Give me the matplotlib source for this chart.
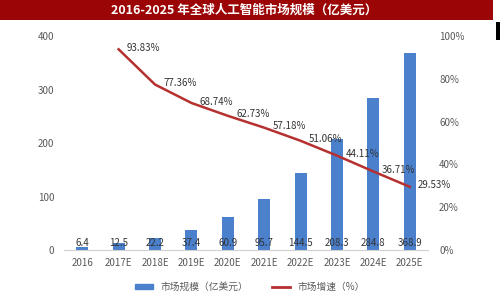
import matplotlib.pyplot as plt
from matplotlib.patches import Rectangle

plt.rcParams['font.family'] = ['Noto Sans CJK SC', 'DejaVu Sans']

years = ['2016', '2017E', '2018E', '2019E', '2020E', '2021E', '2022E', '2023E', '2024E', '2025E']
market_size = [6.4, 12.5, 22.2, 37.4, 60.9, 95.7, 144.5, 208.3, 284.8, 368.9]
growth = [None, 93.83, 77.36, 68.74, 62.73, 57.18, 51.06, 44.11, 36.71, 29.53]

title = '2016-2025 年全球人工智能市场规模（亿美元）'
bar_color = '#4a80cc'
line_color = '#b5302f'
text_color = '#595959'

fig = plt.figure(figsize=(5, 3), dpi=100)

# title banner
fig.patches.append(Rectangle((0, 1 - 20 / 300), 493 / 500, 20 / 300, transform=fig.transFigure,
                             facecolor='#9c0505', edgecolor='none'))
fig.patches.append(Rectangle((496 / 500, 1 - 40 / 300), 4 / 500, 18 / 300, transform=fig.transFigure,
                             facecolor='black', edgecolor='none'))
fig.text(0.488, 1 - 10 / 300, title, color='white', fontsize=9, fontweight='bold',
         ha='center', va='center')

ax = fig.add_axes([0.128, 0.1667, 0.728, 0.713])
x = list(range(len(years)))
ax.bar(x, market_size, width=0.33, color=bar_color, zorder=2)
ax.set_ylim(0, 400)
ax.set_xlim(-0.5, len(years) - 0.5)
ax.set_yticks([0, 100, 200, 300, 400])
ax.set_xticks(x)
ax.set_xticklabels(years)

for i, v in enumerate(market_size):
    ax.text(i, 4, f'{v}', ha='center', va='bottom', fontsize=7, color='#333333', zorder=3)

ax2 = ax.twinx()
gx = [i for i, g in enumerate(growth) if g is not None]
gy = [g for g in growth if g is not None]
ax2.plot(gx, gy, color=line_color, linewidth=1.8, zorder=3)
ax2.set_ylim(0, 100)
ax2.set_yticks([0, 20, 40, 60, 80, 100])
ax2.set_yticklabels([f'{t}%' for t in [0, 20, 40, 60, 80, 100]])
for i, g in zip(gx, gy):
    ax2.annotate(f'{g:.2f}%', (i, g), xytext=(6, 1), textcoords='offset points',
                 ha='left', va='center', fontsize=7, color='#333333')

for a in (ax, ax2):
    for s in a.spines.values():
        s.set_visible(False)
    a.tick_params(length=0, labelsize=7, colors=text_color)
ax.spines['bottom'].set_visible(True)
ax.spines['bottom'].set_color('#d0d0d0')
ax.tick_params(axis='y', pad=7)
ax.tick_params(axis='x', pad=6)
ax2.tick_params(axis='y', pad=8)

handles = [Rectangle((0, 0), 1, 1, color=bar_color),
           plt.Line2D([0], [0], color=line_color, linewidth=2)]
fig.legend(handles, ['市场规模（亿美元）', '市场增速（%）'], loc='center',
           bbox_to_anchor=(0.5, 1 - 287 / 300), ncol=2, frameon=False, fontsize=7,
           labelcolor=text_color, handlelength=1.8, handleheight=0.5, columnspacing=2.5)

fig.savefig('out.png', dpi=100)
